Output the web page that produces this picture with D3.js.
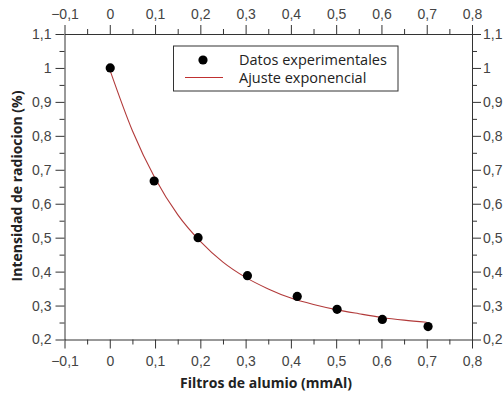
<!DOCTYPE html>
<html>
<head>
<meta charset="utf-8">
<script src="https://cdn.jsdelivr.net/npm/d3@7"></script>
<style>
  body { margin: 0; background: #fff; }
  svg { font-family: "Open Sans", "Noto Sans", sans-serif; }
  .axis path, .axis line { stroke: #333; stroke-width: 1; }
  .axis text { fill: #444; font-size: 14px; }
</style>
</head>
<body>
<div id="chart-area"></div>
<script>
// datos medidos
var filtros = [0.001, 0.098, 0.195, 0.304, 0.414, 0.502, 0.602, 0.703];
var intensidad = [1.0, 0.667, 0.5, 0.388, 0.327, 0.289, 0.259, 0.238];

// ajuste exponencial
var ajusteX = [0, 0.05, 0.1, 0.15, 0.2, 0.25, 0.3, 0.35, 0.4, 0.45, 0.5, 0.55, 0.6, 0.65, 0.7];
var ajusteY = [0.995, 0.815, 0.675, 0.568, 0.489, 0.428, 0.383, 0.349, 0.322, 0.303, 0.288, 0.276, 0.265, 0.257, 0.251];

// ticks
var xTicks = [-0.1, 0, 0.1, 0.2, 0.3, 0.4, 0.5, 0.6, 0.7, 0.8];
var xMinor = [-0.05, 0.05, 0.15, 0.25, 0.35, 0.45, 0.55, 0.65, 0.75];
var yTicks = [0.2, 0.3, 0.4, 0.5, 0.6, 0.7, 0.8, 0.9, 1.0, 1.1];
var yMinor = [0.25, 0.35, 0.45, 0.55, 0.65, 0.75, 0.85, 0.95, 1.05];

var svg = d3.select("#chart-area").append("svg")
    .attr("width", 504)
    .attr("height", 393);

var x = d3.scaleLinear().domain([-0.1, 0.8]).range([64.5, 472]);
var y = d3.scaleLinear().domain([0.2, 1.1]).range([339.5, 34]);

var loc = d3.formatLocale({decimal: ",", thousands: ".", grouping: [3], currency: ["", ""], minus: "\u2212"});
var fmt = loc.format(".1~f");

// ejes (abajo, arriba, izquierda, derecha)
function addAxis(axisFn, scale, ticks, minor, tr, pad) {
    var g = svg.append("g").attr("class", "axis").attr("transform", tr);
    g.call(axisFn(scale).tickValues(minor).tickSize(5).tickFormat(""));
    g.select(".domain").remove();
    var g2 = svg.append("g").attr("class", "axis").attr("transform", tr);
    g2.call(axisFn(scale).tickValues(ticks).tickSize(9).tickSizeOuter(0).tickPadding(pad).tickFormat(fmt));
    return g2;
}
addAxis(d3.axisBottom, x, xTicks, xMinor, "translate(0,339.5)", 8);
addAxis(d3.axisTop, x, xTicks, xMinor, "translate(0,34)", 6);
addAxis(d3.axisLeft, y, yTicks, yMinor, "translate(64.5,0)", 4);
addAxis(d3.axisRight, y, yTicks, yMinor, "translate(472,0)", 2);

// curva de ajuste
var line = d3.line()
    .x((d, i) => x(ajusteX[i]))
    .y(d => y(d))
    .curve(d3.curveMonotoneX);

svg.append("path")
    .datum(ajusteY)
    .attr("d", line)
    .attr("fill", "none")
    .attr("stroke", "#b23a3a")
    .attr("stroke-width", 1.1);

// puntos
svg.selectAll("circle.dato")
    .data(filtros)
    .enter()
    .append("circle")
    .attr("class", "dato")
    .attr("cx", d => x(d))
    .attr("cy", (d, i) => y(intensidad[i]))
    .attr("r", 4.6)
    .attr("fill", "#000");

// leyenda
var leg = svg.append("g");
leg.append("rect")
    .attr("x", 173.5).attr("y", 46)
    .attr("width", 224.5).attr("height", 45)
    .attr("fill", "#fff").attr("stroke", "#333").attr("stroke-width", 1);
leg.append("circle").attr("cx", 203).attr("cy", 60).attr("r", 4.6).attr("fill", "#000");
leg.append("line")
    .attr("x1", 185).attr("x2", 223).attr("y1", 77.5).attr("y2", 77.5)
    .attr("stroke", "#c03030").attr("stroke-width", 1.1);
leg.append("text").attr("x", 239).attr("y", 65)
    .attr("font-size", "14.5px").attr("fill", "#222").text("Datos experimentales");
leg.append("text").attr("x", 239).attr("y", 82.5)
    .attr("font-size", "14.5px").attr("fill", "#222").text("Ajuste exponencial");

// titulos
svg.append("text")
    .attr("x", 266).attr("y", 388)
    .attr("text-anchor", "middle")
    .attr("font-size", "14px").attr("font-weight", "bold").attr("fill", "#222")
    .text("Filtros de alumio (mmAl)");

svg.append("text")
    .attr("transform", "translate(22,186) rotate(-90)")
    .attr("text-anchor", "middle")
    .attr("font-size", "14px").attr("font-weight", "bold").attr("fill", "#222")
    .text("Intensidad de radiocion (%)");
</script>
</body>
</html>
